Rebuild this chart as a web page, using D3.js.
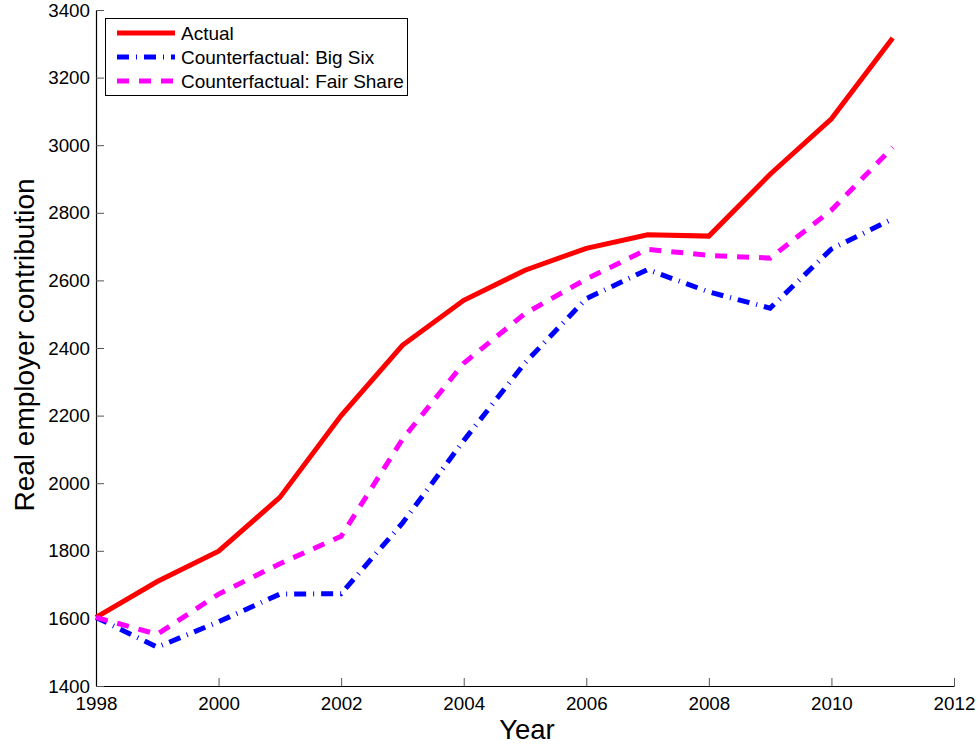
<!DOCTYPE html>
<meta charset="utf-8">
<style>
  body { margin: 0; background: #fff; }
  svg { font-family: "Liberation Sans", Arial, sans-serif; }
  .axis path { stroke: #000; }
  .axis line { stroke: #555; }
  .axis text { font-size: 18.8px; fill: #000; }
</style>

<svg width="979" height="746"></svg>
<script src="https://cdn.jsdelivr.net/npm/d3@7"></script>

<script>
const svg = d3.select("svg");

// data
const years = [1998, 1999, 2000, 2001, 2002, 2003, 2004, 2005, 2006, 2007, 2008, 2009, 2010, 2011];
const actual = [1603, 1709, 1799, 1958, 2200, 2408, 2541, 2630, 2695, 2735, 2731, 2914, 3078, 3317];
const bigSix = [1603, 1515, 1590, 1672, 1673, 1882, 2126, 2356, 2546, 2632, 2566, 2518, 2693, 2782];
const fairShare = [1603, 1553, 1672, 1762, 1843, 2130, 2355, 2502, 2604, 2692, 2674, 2666, 2808, 2994];

const xTicks = [1998, 2000, 2002, 2004, 2006, 2008, 2010, 2012];
const yTicks = [1400, 1600, 1800, 2000, 2200, 2400, 2600, 2800, 3000, 3200, 3400];

const series = [
  { name: "Actual", values: actual, color: "#ff0000", dash: null },
  { name: "Counterfactual: Big Six", values: bigSix, color: "#0000ff", dash: "12,7,1,7" },
  { name: "Counterfactual: Fair Share", values: fairShare, color: "#ff00ff", dash: "12,10" }
];

const plotLeft = 96, plotRight = 954, plotTop = 10, plotBottom = 686;

const x = d3.scaleLinear().domain([1998, 2012]).range([plotLeft, plotRight]);
const y = d3.scaleLinear().domain([1400, 3400]).range([plotBottom, plotTop]);

// x axis (ticks point inward)
const xAxis = svg.append("g")
  .attr("class", "axis")
  .attr("transform", `translate(0,${plotBottom})`)
  .call(d3.axisBottom(x).tickValues(xTicks).tickFormat(d3.format("d"))
    .tickSizeInner(-8).tickSizeOuter(0).tickPadding(11));
xAxis.select(".domain").attr("stroke-width", 1.2);

const yAxis = svg.append("g")
  .attr("class", "axis")
  .attr("transform", `translate(${plotLeft},0)`)
  .call(d3.axisLeft(y).tickValues(yTicks).tickFormat(d3.format("d"))
    .tickSizeInner(-8).tickSizeOuter(0).tickPadding(6));
yAxis.select(".domain").attr("stroke-width", 1.2);

// lines
const line = d3.line()
  .x((d, i) => x(years[i]))
  .y(d => y(d));

svg.append("g")
  .selectAll("path")
  .data(series)
  .enter().append("path")
    .attr("d", d => line(d.values))
    .attr("fill", "none")
    .attr("stroke", d => d.color)
    .attr("stroke-width", 5)
    .attr("stroke-linejoin", "miter")
    .attr("stroke-dasharray", d => d.dash);

// axis labels
svg.append("text")
  .attr("x", 527)
  .attr("y", 739)
  .attr("text-anchor", "middle")
  .attr("font-size", 27.5)
  .text("Year");

svg.append("text")
  .attr("transform", "translate(34,345) rotate(-90)")
  .attr("text-anchor", "middle")
  .attr("font-size", 28)
  .text("Real employer contribution");

// legend
const legend = svg.append("g");
legend.append("rect")
  .attr("x", 105.5).attr("y", 18.5)
  .attr("width", 302).attr("height", 77)
  .attr("fill", "#fff")
  .attr("stroke", "#000")
  .attr("stroke-width", 1);

const rows = legend.selectAll("g.row")
  .data(series)
  .enter().append("g")
    .attr("class", "row")
    .attr("transform", (d, i) => `translate(0,${33 + i * 24})`);

rows.append("line")
  .attr("x1", 117).attr("x2", 175)
  .attr("y1", 0).attr("y2", 0)
  .attr("stroke", d => d.color)
  .attr("stroke-width", 5)
  .attr("stroke-dasharray", d => d.dash);

rows.append("text")
  .attr("x", 181)
  .attr("y", 0)
  .attr("dy", "0.35em")
  .attr("font-size", 19)
  .text(d => d.name);
</script>
